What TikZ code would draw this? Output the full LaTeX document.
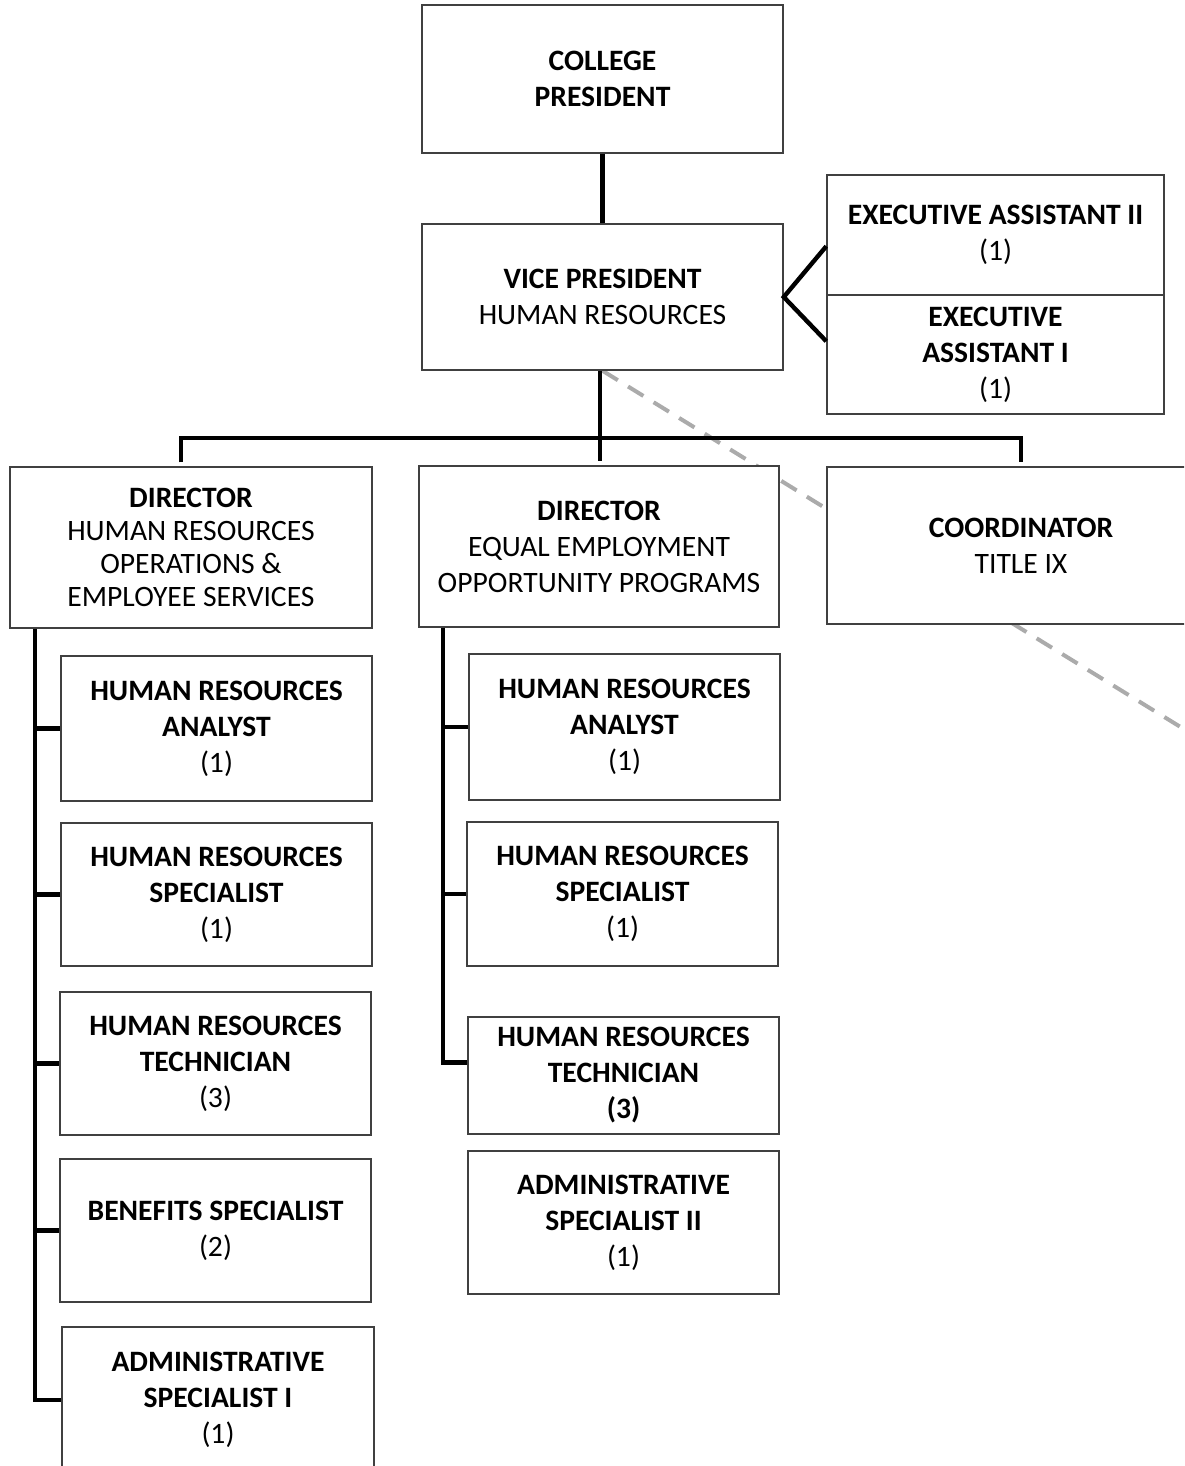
\documentclass[tikz,border=0pt]{standalone}
\usepackage{fontspec}
\setmainfont{Carlito}
\usetikzlibrary{calc}
\pgfdeclarelayer{background}
\pgfsetlayers{background,main}

\begin{document}
\begin{tikzpicture}[x=0.5pt,y=-0.5pt,
    post/.style 2 args={rectangle, draw=black!75, line width=0.75pt, fill=white, align=center, inner sep=0pt,
      font=\fontsize{14.8}{18}\selectfont, minimum width=#1, minimum height=#2, anchor=center},
    link/.style={draw=black, line width=2.2pt},
    dotline/.style={draw=black!33, line width=2pt, dash pattern=on 9pt off 6pt}]

      \useasboundingbox (0,0) rectangle (1184,1466);
      \clip (0,0) rectangle (1184,1466);

      \node[post={180.5pt}{74pt}] (pres) at (602.5,79) {\textbf{COLLEGE}\\\textbf{PRESIDENT}};
      \node[post={180.5pt}{73pt}] (vp) at (602.5,297) {\textbf{VICE PRESIDENT}\\HUMAN RESOURCES};

      \node[post={168.5pt}{60pt}] (ea2) at (995.5,235) {\textbf{EXECUTIVE ASSISTANT II}\\(1)};
      \node[post={168.5pt}{59.5pt}] (ea1) at (995.5,354.5) {\textbf{EXECUTIVE}\\\textbf{ASSISTANT I}\\(1)};

      \node[post={181pt}{80.5pt}, font=\fontsize{14.8}{16.5}\selectfont] (dir1) at (191,547.5) {\textbf{DIRECTOR}\\HUMAN RESOURCES\\OPERATIONS \&\\EMPLOYEE SERVICES};
      \node[post={180pt}{80.5pt}] (dir2) at (599,546.5) {\textbf{DIRECTOR}\\EQUAL EMPLOYMENT\\OPPORTUNITY PROGRAMS};
      \node[post={194pt}{78.5pt}] (coord) at (1021,545.5) {\textbf{COORDINATOR}\\TITLE IX};

      \node[post={155.5pt}{72.5pt}] (ana1) at (216.5,728.5) {\textbf{HUMAN RESOURCES}\\\textbf{ANALYST}\\(1)};
      \node[post={155.5pt}{71.5pt}] (spe1) at (216.5,894.5) {\textbf{HUMAN RESOURCES}\\\textbf{SPECIALIST}\\(1)};
      \node[post={155.5pt}{71.5pt}] (tec1) at (215.5,1063.5) {\textbf{HUMAN RESOURCES}\\\textbf{TECHNICIAN}\\(3)};
      \node[post={155.5pt}{71.5pt}] (ben1) at (215.5,1230.5) {\textbf{BENEFITS SPECIALIST}\\(2)};
      \node[post={156pt}{73pt}] (adm1) at (218,1400) {\textbf{ADMINISTRATIVE}\\\textbf{SPECIALIST I}\\(1)};

      \node[post={155.5pt}{73pt}] (ana2) at (624.5,727) {\textbf{HUMAN RESOURCES}\\\textbf{ANALYST}\\(1)};
      \node[post={155.5pt}{72pt}] (spe2) at (622.5,894) {\textbf{HUMAN RESOURCES}\\\textbf{SPECIALIST}\\(1)};
      \node[post={155.5pt}{58.5pt}] (tec2) at (623.5,1075.5) {\textbf{HUMAN RESOURCES}\\\textbf{TECHNICIAN}\\\textbf{(3)}};
      \node[post={155.5pt}{71.5pt}] (adm2) at (623.5,1222.5) {\textbf{ADMINISTRATIVE}\\\textbf{SPECIALIST II}\\(1)};

      \coordinate (bus) at (600,438);
      \coordinate (dashend) at (1200,739);
      \coordinate (spineA) at ([xshift=-78pt]dir1.south);
      \coordinate (spineB) at ([xshift=-78pt]dir2.south);

      \begin{pgfonlayer}{background}
        \draw[dotline] (vp.south) -- (dashend);
      \end{pgfonlayer}

      \draw[link] (pres) -- (vp);
      \draw[link, shorten >=2pt] (vp.south -| bus) -- (bus |- dir2.north);
      \draw[link, shorten <=2pt, shorten >=2pt] ([xshift=-5pt]dir1.north) |- (bus) -| (coord.north);
      \draw[link] ([yshift=24pt]ea1.north west) -- (vp.east) -- ([yshift=-23.5pt]ea1.north west);

      \draw[link] (spineA) |- (adm1.west);
      \foreach \b in {ana1,spe1,tec1,ben1}
        \draw[link] (spineA |- \b.west) -- (\b.west);

      \draw[link] (spineB) |- ([yshift=6.5pt]tec2.west);
      \foreach \b in {ana2,spe2}
        \draw[link] (spineB |- \b.west) -- (\b.west);

\end{tikzpicture}
\end{document}
